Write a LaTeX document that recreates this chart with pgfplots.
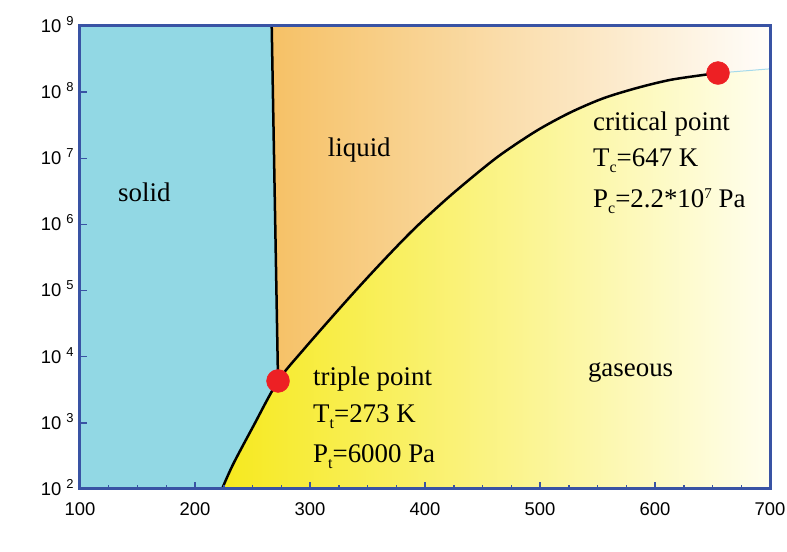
\documentclass[border=0pt]{standalone}
\usepackage{fontspec}
\setmainfont{Liberation Serif}
\newfontfamily\ticfont{Liberation Sans}
\usepackage{pgfplots}
\pgfplotsset{compat=1.18}

\definecolor{axisblue}{RGB}{57,83,164}
\definecolor{solidblue}{RGB}{146,216,228}
\definecolor{liqorange}{RGB}{246,193,102}
\definecolor{liqwhite}{RGB}{255,253,250}
\definecolor{gasyellow}{RGB}{246,233,30}
\definecolor{gaspale}{RGB}{255,254,238}
\definecolor{dotred}{RGB}{237,32,36}

\newcommand{\lbl}{\fontsize{27}{31}\selectfont}
\newcommand{\sub}[1]{\raisebox{-6bp}{\fontsize{16}{16}\selectfont #1}}
\newcommand{\ex}[1]{\hspace{5bp}\raisebox{7bp}[0pt][0pt]{\fontsize{13}{13}\selectfont #1}}

\begin{document}
\begin{tikzpicture}
\begin{axis}[
    at={(0,0)}, anchor=south west,
    width=690bp, height=463bp, scale only axis,
    xmin=100, xmax=700, ymin=1e2, ymax=1e9, ymode=log,
    xtick={100,200,...,700}, minor x tick num=3,
    ytick={1e2,1e3,1e4,1e5,1e6,1e7,1e8,1e9},
    yticklabels={10\ex{2},10\ex{3},10\ex{4},10\ex{5},10\ex{6},10\ex{7},10\ex{8},10\ex{9}},
    yminorticks=false,
    tick pos=left,
    axis line style={line width=3bp, draw=axisblue},
    every tick/.style={draw=axisblue, line width=1.5bp},
    major tick length=7bp, minor tick length=4bp,
    ticklabel style={font=\ticfont\fontsize{18.5}{18.5}\selectfont},
    xticklabel style={yshift=-10bp},
    yticklabel style={xshift=-3bp},
    /pgf/number format/assume math mode=true,
    axis background/.style={fill=solidblue},
    axis on top,
]
% liquid region
\addplot[draw=none, left color=liqorange, right color=liqwhite] coordinates {
  (266.7,1e9) (272.2,4300) (294,12590) (331.9,70800) (360.9,251200)
  (389.6,824000) (419.1,2.455e6) (447.8,6.46e6) (467.8,1.202e7) (497.4,2.63e7)
  (526.1,4.90e7) (554.8,8.04e7) (584.3,1.156e8) (613,1.528e8) (641.7,1.816e8)
  (654.8,1.945e8) (700,2.25e8) (700,1e9)} -- cycle;
% gaseous region
\addplot[draw=none, left color=gasyellow, right color=gaspale] coordinates {
  (223.5,100) (233,234) (250.4,871) (272.2,4300) (294,12590) (331.9,70800)
  (360.9,251200) (389.6,824000) (419.1,2.455e6) (447.8,6.46e6) (467.8,1.202e7)
  (497.4,2.63e7) (526.1,4.90e7) (554.8,8.04e7) (584.3,1.156e8) (613,1.528e8)
  (641.7,1.816e8) (654.8,1.945e8) (700,2.25e8) (700,100)} -- cycle;
% faint continuation past the critical point
\addplot[draw={rgb,255:red,165;green,218;blue,236}, line width=1bp] coordinates {
  (654.8,1.945e8) (700,2.25e8)};
% melting line
\addplot[black, line width=2.5bp] coordinates {(266.7,1e9) (272.2,4300)};
% vapour pressure curve
\addplot[black, line width=2.5bp, smooth] coordinates {
  (223.5,100) (233,234) (250.4,871) (272.2,4300) (294,12590) (331.9,70800)
  (360.9,251200) (389.6,824000) (419.1,2.455e6) (447.8,6.46e6) (467.8,1.202e7)
  (497.4,2.63e7) (526.1,4.90e7) (554.8,8.04e7) (584.3,1.156e8) (613,1.528e8)
  (641.7,1.816e8) (654.8,1.945e8)};
% triple and critical points
\addplot[only marks, mark=*, mark size=11.5bp, color=dotred] coordinates {
  (272.2,4300) (654.8,1.945e8)};

\node[anchor=base west, inner sep=0pt, font=\lbl] at (rel axis cs:0.055,0.620) {solid};
\node[anchor=base west, inner sep=0pt, font=\lbl] at (rel axis cs:0.359,0.719) {liquid};
\node[anchor=base west, inner sep=0pt, font=\lbl] at (rel axis cs:0.736,0.242) {gaseous};
\node[anchor=base west, inner sep=0pt, font=\lbl] at (rel axis cs:0.7435,0.775) {critical point};
\node[anchor=base west, inner sep=0pt, font=\lbl] at (rel axis cs:0.7435,0.6955) {T\sub{c}=647 K};
\node[anchor=base west, inner sep=0pt, font=\lbl] at (rel axis cs:0.7435,0.609) {P\sub{c}=2.2*10\raisebox{9bp}{\fontsize{15}{15}\selectfont 7} Pa};
\node[anchor=base west, inner sep=0pt, font=\lbl] at (rel axis cs:0.3377,0.2246) {triple point};
\node[anchor=base west, inner sep=0pt, font=\lbl] at (rel axis cs:0.3377,0.1447) {T\sub{t}=273 K};
\node[anchor=base west, inner sep=0pt, font=\lbl] at (rel axis cs:0.3377,0.0583) {P\sub{t}=6000 Pa};

\node[font=\fontsize{26}{30}\selectfont, inner sep=0pt] at (rel axis cs:0.4725,-0.101) {T(K)};
\node[font=\lbl, rotate=90] at (rel axis cs:-0.094,0.484) {p(Pa)};
\end{axis}
\pgfresetboundingbox
\path[use as bounding box] (-80bp,-63bp) rectangle (707bp,489bp);
\end{tikzpicture}
\end{document}
